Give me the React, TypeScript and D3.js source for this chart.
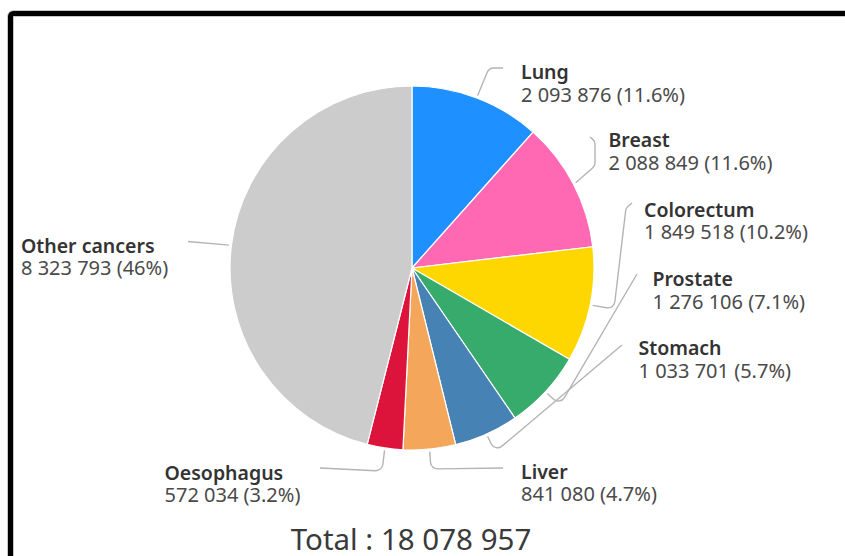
import React from "react";
import * as d3 from "d3";

// ---- data ----
const CATEGORIES = ["Lung", "Breast", "Colorectum", "Prostate", "Stomach", "Liver", "Oesophagus", "Other cancers"];
const VALUES = [2093876, 2088849, 1849518, 1276106, 1033701, 841080, 572034, 8323793];
const COLORS = ["#1E90FF", "#FF69B4", "#FFD700", "#36AB6C", "#4682B4", "#F4A75A", "#DC143C", "#CCCCCC"];
const TOTAL_LABEL = "Total";

// ---- layout (label anchors: text x, name baseline) ----
const LABEL_POS: [number, number][] = [
  [521, 79], [608.5, 147], [644, 216.5], [652.5, 286], [638.5, 355], [521, 478.5], [164.5, 479.5], [21, 252.5],
];
// connector bend points after the slice edge point
const CONNECTOR_BENDS: [number, number][][] = [
  [[489, 68], [503, 68]],
  [[595, 166], [595, 141], [590, 137]],
  [[614, 309], [626, 208], [632, 203]],
  [[560, 405], [637, 274]],
  [[495, 452], [622, 345]],
  [[431, 469], [503, 468]],
  [[382, 471], [320, 468]],
  [[188, 241.5]],
];

const W = 845, H = 556;
const CX = 412, CY = 268, R = 182;

const locale = d3.formatLocale({ thousands: " ", grouping: [3], decimal: ".", currency: ["", ""] });
const fmt = locale.format(",");

export default function App() {
  const total = d3.sum(VALUES);
  const pie = d3.pie<number>().sort(null).value((d) => d).startAngle(0).endAngle(2 * Math.PI);
  const arcs = pie(VALUES);
  const arc = d3.arc<d3.PieArcDatum<number>>().innerRadius(0).outerRadius(R);
  const edgeArc = d3.arc<d3.PieArcDatum<number>>().innerRadius(R + 2.5).outerRadius(R + 2.5);

  const connectors = arcs.map((a, i) => {
    const [ex, ey] = edgeArc.centroid(a);
    const pts: [number, number][] = [[CX + ex, CY + ey], ...CONNECTOR_BENDS[i]];
    const p = d3.path();
    p.moveTo(pts[0][0], pts[0][1]);
    for (let k = 1; k < pts.length - 1; k++) {
      p.arcTo(pts[k][0], pts[k][1], pts[k + 1][0], pts[k + 1][1], 7);
    }
    p.lineTo(pts[pts.length - 1][0], pts[pts.length - 1][1]);
    return p.toString();
  });

  const pct = (v: number) => String(+((v / total) * 100).toFixed(1)) + "%";

  return (
    <svg
      width={W}
      height={H}
      style={{ position: "absolute", left: 0, top: 0, background: "#fff", fontFamily: "'Noto Sans', 'Open Sans', sans-serif" }}
    >
      <rect x={0} y={0} width={W} height={H} fill="#fff" />
      <rect x={10.5} y={13.5} width={W + 40} height={H + 40} rx={3} fill="none" stroke="#c8c8c8" strokeWidth={7} />
      <rect x={10.5} y={13.5} width={W + 40} height={H + 40} rx={3} fill="none" stroke="#000" strokeWidth={5} />
      <g>
        {connectors.map((d, i) => (
          <path key={"c" + i} d={d} fill="none" stroke="#b4b4b4" strokeWidth={1.4} />
        ))}
      </g>
      <g transform={`translate(${CX},${CY})`}>
        {arcs.map((a, i) => (
          <path key={"s" + i} d={arc(a) || ""} fill={COLORS[i]} stroke="#fff" strokeWidth={1.2} strokeLinejoin="round" />
        ))}
      </g>
      <g>
        {arcs.map((a, i) => (
          <g key={"t" + i}>
            <text x={LABEL_POS[i][0]} y={LABEL_POS[i][1]} fontSize={19.5} fontWeight={600} fill="#333">
              {CATEGORIES[i]}
            </text>
            <text x={LABEL_POS[i][0]} y={LABEL_POS[i][1] + 22.5} fontSize={20} fontWeight={400} fill="#4a4a4a">
              {`${fmt(VALUES[i])} (${pct(VALUES[i])})`}
            </text>
          </g>
        ))}
      </g>
      <text x={411} y={549.5} textAnchor="middle" fontSize={29.5} fill="#3a3a3a">
        {`${TOTAL_LABEL} : ${fmt(total)}`}
      </text>
    </svg>
  );
}
